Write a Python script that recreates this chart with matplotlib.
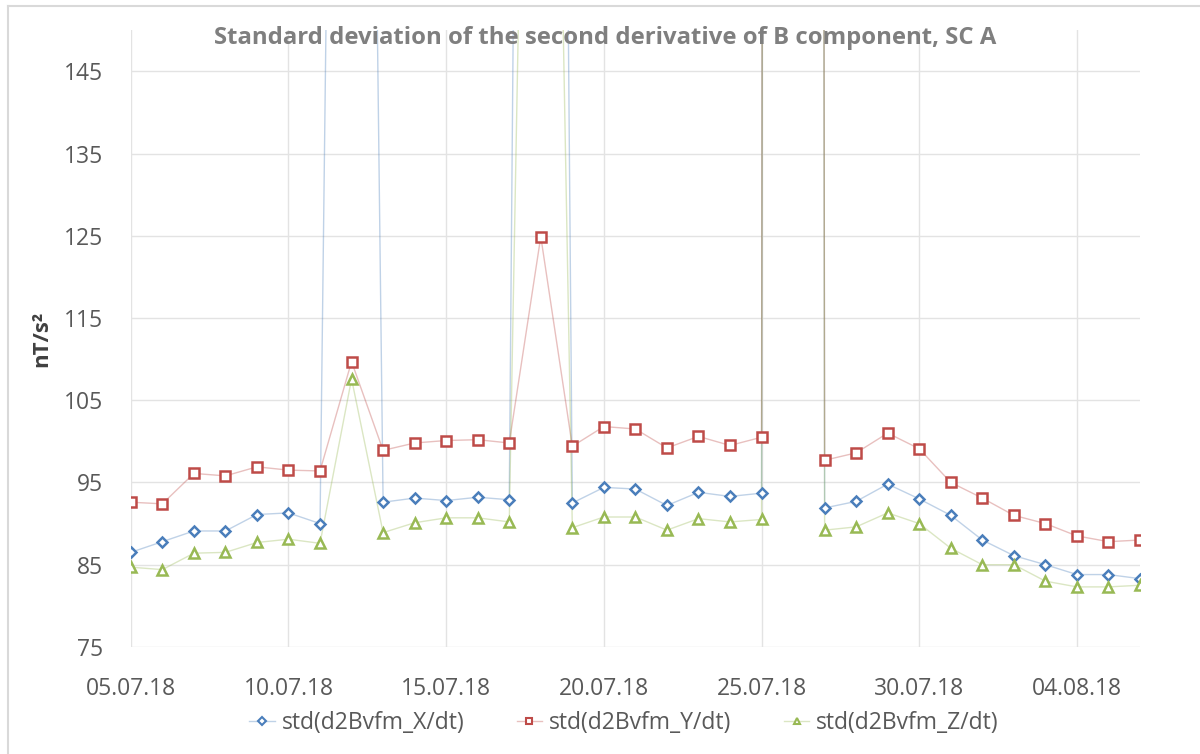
import matplotlib
matplotlib.use("Agg")
import matplotlib.pyplot as plt
import matplotlib.dates as mdates
from matplotlib.legend_handler import HandlerTuple
from matplotlib.lines import Line2D
import numpy as np
import pandas as pd

plt.rcParams['font.family'] = ['Open Sans', 'DejaVu Sans']

# daily values 05.07.18 - 06.08.18 (very large outliers go off the top of the chart)
dates = pd.date_range('2018-07-05', '2018-08-06', freq='D')
std_x = [86.5, 87.8, 89.1, 89.1, 91.1, 91.3, 90.0, 410.0, 92.6, 93.1, 92.8, 93.2, 92.9,
         550.0, 92.5, 94.4, 94.2, 92.2, 93.8, 93.3, 93.7, 3000.0, 91.9, 92.7, 94.8, 93.0,
         91.0, 88.0, 86.1, 85.0, 83.8, 83.8, 83.3]
std_y = [92.6, 92.4, 96.1, 95.8, 96.9, 96.5, 96.4, 109.7, 98.9, 99.8, 100.1, 100.2, 99.8,
         124.9, 99.4, 101.8, 101.5, 99.2, 100.6, 99.5, 100.5, 3000.0, 97.7, 98.6, 101.0, 99.1,
         95.0, 93.1, 91.0, 90.0, 88.5, 87.8, 88.0]
std_z = [84.7, 84.4, 86.4, 86.5, 87.7, 88.1, 87.6, 107.6, 88.9, 90.1, 90.7, 90.7, 90.2,
         300.0, 89.5, 90.8, 90.8, 89.2, 90.6, 90.2, 90.5, 3000.0, 89.2, 89.6, 91.3, 90.0,
         87.0, 85.0, 85.0, 83.0, 82.3, 82.3, 82.5]

series = [
    (std_x, 'std(d2Bvfm_X/dt)', '#4a7ebb', 'D', 5.5),
    (std_y, 'std(d2Bvfm_Y/dt)', '#be4b48', 's', 7),
    (std_z, 'std(d2Bvfm_Z/dt)', '#98b954', '^', 7),
]

fig = plt.figure(figsize=(12, 7.54), dpi=100)
ax = fig.add_axes([0.109, 0.142, 0.841, 0.818])

handles = []
for vals, label, col, mk, ms in series:
    ax.plot(dates, vals, color=col, lw=1, alpha=0.35, zorder=2)
    ax.plot(dates, vals, ls='none', marker=mk, ms=ms, mfc='white',
            mec=col, mew=1.8, zorder=3)
    h_line = Line2D([], [], color=col, lw=1, alpha=0.35)
    h_mark = Line2D([], [], ls='none', marker=mk, ms=ms * 0.7, mfc='white', mec=col, mew=1.5)
    handles.append(((h_line, h_mark), label))

ax.set_ylim(75, 150)
ax.set_yticks(np.arange(75, 150, 10))
ax.set_xlim(dates[0], dates[-1])
ax.set_xticks(pd.date_range('2018-07-05', '2018-08-06', freq='5D'))
ax.xaxis.set_major_formatter(mdates.DateFormatter('%d.%m.%y'))

ax.grid(True, color='#e3e3e3', lw=1)
ax.set_axisbelow(True)
for s in ax.spines.values():
    s.set_visible(False)
ax.tick_params(length=0, labelsize=16.5, colors='#595959')
ax.tick_params(axis='x', pad=22)
ax.tick_params(axis='y', pad=20)

ax.set_ylabel('nT/s²', fontsize=16, fontweight='bold', color='#404040', labelpad=8)

fig.text(0.504, 1 - 38 / 754, 'Standard deviation of the second derivative of B component, SC A',
         ha='center', va='center', fontsize=17.2, fontweight='bold', color='#7f7f7f')

fig.legend([h for h, _ in handles], [l for _, l in handles],
           handler_map={tuple: HandlerTuple(ndivide=1)},
           loc='center', bbox_to_anchor=(0.52, 1 - 723 / 754), ncol=3, frameon=False,
           fontsize=16.5, labelcolor='#595959', handlelength=1.1, columnspacing=2.3,
           handletextpad=0.3)

# chart border
fig.add_artist(Line2D([8 / 1200, 8 / 1200], [0, 1 - 6 / 754], color='#d9d9d9', lw=1.5))
fig.add_artist(Line2D([8 / 1200, 1], [1 - 6 / 754, 1 - 6 / 754], color='#d9d9d9', lw=1.5))

fig.savefig('out.png', dpi=100)
